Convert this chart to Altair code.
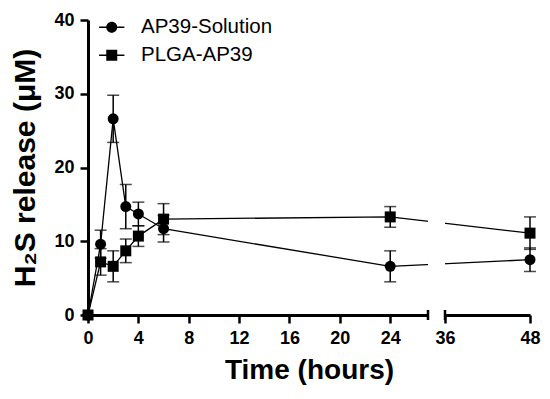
import altair as alt
import pandas as pd

# ---- data ----
times = [0, 1, 2, 3, 4, 6, 24, 48]
series_names = ["AP39-Solution", "PLGA-AP39"]
sol_mean = [0, 9.6, 26.6, 14.7, 13.7, 11.7, 6.6, 7.5]
sol_err = [0, 1.9, 3.2, 3.0, 1.6, 1.8, 2.1, 1.6]
plga_mean = [0, 7.2, 6.6, 8.7, 10.7, 13.0, 13.3, 11.1]
plga_err = [0, 1.8, 2.1, 1.6, 1.4, 2.1, 1.4, 2.2]
x_ticks = [0, 4, 8, 12, 16, 20, 24, 36, 48]
y_ticks = [0, 10, 20, 30, 40]
axis_break = [27, 36]

W, H = 442, 295
FONT = "Liberation Sans"

df = pd.concat([
    pd.DataFrame({"time": times, "mean": sol_mean, "err": sol_err, "series": series_names[0]}),
    pd.DataFrame({"time": times, "mean": plga_mean, "err": plga_err, "series": series_names[1]}),
])
df["lo"] = df["mean"] - df["err"]
df["hi"] = df["mean"] + df["err"]
gap = pd.DataFrame({"start": [axis_break[0]], "end": [axis_break[1]]})
caps = pd.DataFrame({"b": axis_break})

xscale = alt.Scale(domain=[0, 27, 36, 48], range=[0, 340, 357, W], nice=False, zero=False)
yscale = alt.Scale(domain=[0, 40], nice=False)

xaxis = alt.Axis(values=x_ticks, title="Time (hours)", grid=False, labelFlush=False,
                 domainColor="black", domainWidth=3, tickColor="black", tickWidth=2.5, tickSize=8,
                 labelFont=FONT, labelFontSize=18, labelFontWeight="bold", labelColor="black",
                 labelPadding=6, titleFont=FONT, titleFontSize=28, titleFontWeight="bold",
                 titleColor="black", titlePadding=9)
yaxis = alt.Axis(values=y_ticks, title="H₂S release (μM)", grid=False, labelFlush=False,
                 domainColor="black", domainWidth=3, tickColor="black", tickWidth=2.5, tickSize=8,
                 labelFont=FONT, labelFontSize=18, labelFontWeight="bold", labelColor="black",
                 labelPadding=6, titleFont=FONT, titleFontSize=30, titleFontWeight="bold",
                 titleColor="black", titlePadding=13)

x = alt.X("time:Q", scale=xscale, axis=xaxis)

base = alt.Chart(df)

lines = base.mark_line(color="black", strokeWidth=1.3).encode(
    x=x, y=alt.Y("mean:Q", scale=yscale, axis=yaxis), detail="series:N")

bars = base.mark_rule(color="black", strokeWidth=1.5).encode(
    x=alt.X("time:Q", scale=xscale), y="lo:Q", y2="hi:Q")
cap_hi = base.mark_tick(color="black", orient="horizontal", size=12, thickness=1.5).encode(
    x=alt.X("time:Q", scale=xscale), y="hi:Q")
cap_lo = base.mark_tick(color="black", orient="horizontal", size=12, thickness=1.5).encode(
    x=alt.X("time:Q", scale=xscale), y="lo:Q")

points = base.mark_point(filled=True, opacity=1, color="black", size=121).encode(
    x=alt.X("time:Q", scale=xscale),
    y="mean:Q",
    shape=alt.Shape("series:N",
                    scale=alt.Scale(domain=series_names, range=["circle", "square"]),
                    legend=None))

# legend symbols: marker with a line through it (legend-only layer, no data drawn)
circle_leg = ("M -2.3 -0.14 L 2.3 -0.14 L 2.3 0.14 L -2.3 0.14 Z "
              "M 1 0 A 1 1 0 1 1 -1 0 A 1 1 0 1 1 1 0 Z")
square_leg = ("M -2.3 -0.14 L 2.3 -0.14 L 2.3 0.14 L -2.3 0.14 Z "
              "M -1 -1 L 1 -1 L 1 1 L -1 1 Z")

legend_layer = base.transform_filter("false").mark_point(
    filled=True, opacity=1, color="black", size=121).encode(
    x=alt.X("time:Q", scale=xscale),
    y="mean:Q",
    shape=alt.Shape("series:N",
                    scale=alt.Scale(domain=series_names, range=[circle_leg, square_leg]),
                    legend=alt.Legend(title=None, orient="none", legendX=13.5, legendY=-3,
                                      symbolSize=121, symbolFillColor="black",
                                      symbolStrokeWidth=0, symbolOpacity=1,
                                      labelOffset=19, labelFont=FONT, labelFontSize=20.5,
                                      labelColor="black", rowPadding=7)))

mask = alt.Chart(gap).mark_rect(color="white").encode(
    x=alt.X("start:Q", scale=xscale), x2="end:Q", y=alt.value(-5), y2=alt.value(H + 4))

break_caps = alt.Chart(caps).mark_rule(color="black", strokeWidth=2.5).encode(
    x=alt.X("b:Q", scale=xscale), y=alt.value(H - 5), y2=alt.value(H + 5))

chart = alt.layer(lines, bars, cap_hi, cap_lo, points, legend_layer, mask, break_caps).resolve_scale(
    shape="independent"
).properties(
    width=W, height=H,
    autosize=alt.AutoSizeParams(type="none"),
    padding={"left": 80, "top": 12, "right": 12, "bottom": 76},
).configure_view(stroke=None)

chart.save("out.html", embed_options={"renderer": "svg", "actions": False})
